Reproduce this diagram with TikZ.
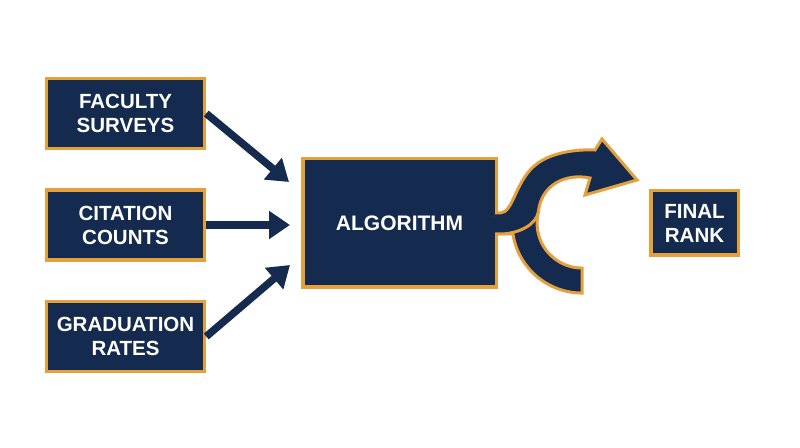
\documentclass[tikz,border=0pt]{standalone}
\usepackage{fontspec}
\setmainfont{Liberation Sans}
\usetikzlibrary{arrows.meta, positioning}
\definecolor{navy}{RGB}{20,42,78}
\definecolor{oro}{RGB}{229,160,62}

\begin{document}
\begin{tikzpicture}[x=1pt, y=1pt,
		box/.style={draw=oro, line width=3.5pt, fill=navy, text=white, align=center, inner sep=0pt,
			font=\bfseries\fontsize{20.5}{24}\selectfont},
		freccia/.style={navy, line width=7.5pt, -{Triangle[length=21pt, width=27pt]}},
		nastro/.style={fill=navy, draw=oro, line width=3pt}]
		\useasboundingbox (0,0) rectangle (800,447);
		
		%%% Blocchi
		\node [box, minimum width=158pt, minimum height=70pt] (fac) at (125.5,333.5) {FACULTY\\SURVEYS};
		\node [box, minimum width=158pt, minimum height=70pt, below=38pt of fac] (cit) {CITATION\\COUNTS};
		\node [box, minimum width=158pt, minimum height=70pt, below=38pt of cit] (grad) {GRADUATION\\RATES};
		\node [box, minimum width=193.5pt, minimum height=128.5pt, font=\bfseries\fontsize{21}{24}\selectfont] (alg) at (399.5,224) {ALGORITHM};
		\node [box, minimum width=87.5pt, minimum height=64.5pt, right=151pt of alg] (fin) {FINAL\\RANK};
		
		%%% Frecce
		\draw[freccia] (fac.east) -- ([shift={(-12,41)}]alg.west);
		\draw[freccia] (cit.east) -- ([xshift=-11pt]alg.west |- cit.east);
		\draw[freccia] (grad.east) -- ([shift={(-11,-42)}]alg.west);
		
		%%% Freccia curva
		% ramo inferiore
		\filldraw[nastro] (495,213) -- (512.9,213) arc[start angle=189, end angle=270, radius=70]
			-- ++(0,25) arc[start angle=270, end angle=166, radius=45] -- (530,232) -- (495,230);
		% ramo superiore con punta
		\filldraw[nastro] (495,234) -- (500,234) .. controls (514,234) and (515,268) .. (538,284)
			.. controls (552,294) and (575,298) .. (595,297) -- (602,308) -- (637,267) -- (585,252) -- (590,269)
			.. controls (565,274) and (541,262) .. (538.4,235) .. controls (536,222) and (518,213) .. (500,213) -- (495,213);
	\end{tikzpicture}
\end{document}
